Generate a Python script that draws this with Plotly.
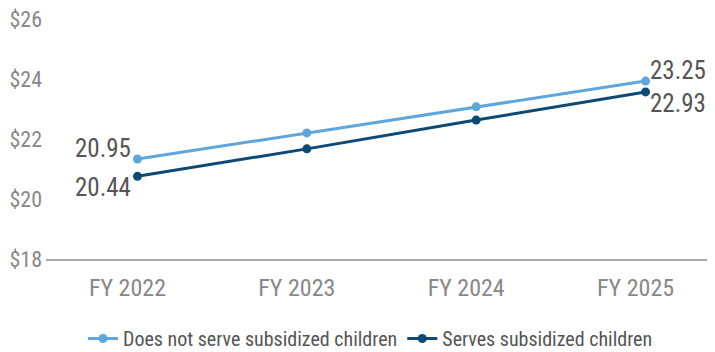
import plotly.graph_objects as go

categories = ["FY 2022", "FY 2023", "FY 2024", "FY 2025"]
does_not_serve = [20.95, 21.72, 22.49, 23.25]
serves = [20.44, 21.25, 22.10, 22.93]
series_names = ["Does not serve subsidized children", "Serves subsidized children"]
tick_labels = ["$18", "$20", "$22", "$24", "$26"]

y_min, y_max = 18, 25.08
tick_vals = [y_min + i * (y_max - y_min) / (len(tick_labels) - 1) for i in range(len(tick_labels))]

FONT = "Roboto Condensed, Roboto, sans-serif"
LIGHT = "#5fa6dc"
DARK = "#0b4a75"

fig = go.Figure()
for name, vals, color in [(series_names[0], does_not_serve, LIGHT), (series_names[1], serves, DARK)]:
    fig.add_trace(go.Scatter(
        x=categories, y=vals, name=name, mode="lines+markers",
        line=dict(color=color, width=3), marker=dict(color=color, size=9),
        cliponaxis=False,
    ))

# end-point value labels: upper series above, lower series below the point
for vals, yanchor, yshift in [(does_not_serve, "bottom", -5), (serves, "top", 4)]:
    for idx, xanchor, xshift in [(0, "right", -5), (len(categories) - 1, "left", 3)]:
        fig.add_annotation(
            x=categories[idx], y=vals[idx], text=f"{vals[idx]:.2f}", showarrow=False,
            xanchor=xanchor, yanchor=yanchor, xshift=xshift, yshift=yshift,
            borderpad=0,
            font=dict(family=FONT, size=25, color="#555555"),
        )

# the page body adds an 8px margin, so the figure is 8px smaller than the window
fig.update_layout(
    width=707, height=344,
    margin=dict(l=38, r=0, t=11, b=93, autoexpand=False),
    paper_bgcolor="white", plot_bgcolor="white",
    font=dict(family=FONT, size=20, color="#888888"),
    showlegend=True,
    legend=dict(orientation="h", x=0.485, xanchor="center", y=-0.25, yanchor="top",
                font=dict(family=FONT, size=20, color="#555555"),
                itemwidth=30, traceorder="normal"),
    xaxis=dict(type="category", range=[-0.54, 3.41], showgrid=False,
               showline=True, linecolor="#aaaaaa", linewidth=1.5,
               ticks="", tickfont=dict(family=FONT, size=24, color="#888888"),
               ticklabelshift=-10, ticklabelstandoff=6, zeroline=False,
               automargin=False),
    yaxis=dict(range=[y_min, y_max + 0.002], tickvals=tick_vals, ticktext=tick_labels,
               showgrid=False, showline=False, zeroline=False, ticks="",
               tickfont=dict(family=FONT, size=22, color="#888888"),
               ticklabelstandoff=3, ticklabeloverflow="allow", automargin=False),
)

fig.write_html("out.html")
